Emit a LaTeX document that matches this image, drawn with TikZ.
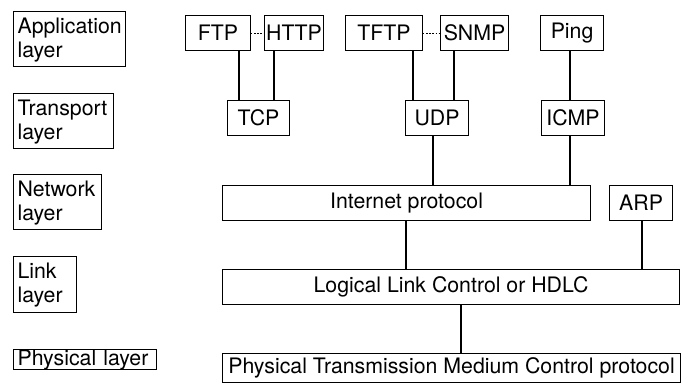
\documentclass[tikz,border=0pt]{standalone}
\usepackage{fontspec}
\setmainfont{TeX Gyre Heros}
\begin{document}
\begin{tikzpicture}[x=1pt,y=-1pt,
  box/.style={draw,line width=1.1pt,anchor=north west,inner xsep=1pt,inner ysep=0pt,
    font=\fontsize{21.3}{24}\selectfont},
  lbl/.style={box,align=left,inner xsep=4pt},
  conn/.style={line width=1.1pt},
  dotconn/.style={line width=1.1pt,dash pattern=on 1.3pt off 1.8pt}]
\useasboundingbox (0,0) rectangle (684,383);
% layer labels
\node[lbl,minimum width=112pt,minimum height=55pt,text width=104pt] (app) at (13,11) {\strut Application\\layer};
\node[lbl,minimum width=100pt,minimum height=55pt,text width=92pt] (trans) at (13,93) {\strut Transport\\layer};
\node[lbl,minimum width=88pt,minimum height=55pt,text width=80pt] (net) at (13,174) {\strut Network\\layer};
\node[lbl,minimum width=63pt,minimum height=56pt,text width=55pt] (link) at (13,256) {\strut Link\\layer};
\node[lbl,minimum width=143pt,minimum height=20pt,text width=135pt] (phys) at (13,349) {Physical layer};
% protocols
\node[box,minimum width=65pt,minimum height=35pt] (ftp) at (185,15) {FTP};
\node[box,minimum width=59pt,minimum height=35pt] (http) at (264,15) {HTTP};
\node[box,minimum width=77pt,minimum height=35pt] (tftp) at (345,15) {TFTP};
\node[box,minimum width=68pt,minimum height=35pt] (snmp) at (440,15) {SNMP};
\node[box,minimum width=63pt,minimum height=35pt] (ping) at (540,15) {Ping};
\node[box,minimum width=62pt,minimum height=35pt] (tcp) at (227,100) {TCP};
\node[box,minimum width=63pt,minimum height=35pt] (udp) at (405,100) {UDP};
\node[box,minimum width=63pt,minimum height=35pt] (icmp) at (541,100) {ICMP};
\node[box,minimum width=368pt,minimum height=35pt] (ip) at (222,185) {Internet protocol};
\node[box,minimum width=63pt,minimum height=35pt] (arp) at (609,185) {ARP};
\node[box,minimum width=457pt,minimum height=35pt] (llc) at (222,269) {Logical Link Control or HDLC};
\node[box,minimum width=458pt,minimum height=29pt] (phy) at (222,353) {Physical Transmission Medium Control protocol};
% x positions of connectors
\coordinate (xa) at (239,0);
\coordinate (xb) at (274,0);
\coordinate (xc) at (413,0);
\coordinate (xd) at (454,0);
\coordinate (xe) at (570,0);
\coordinate (xf) at (433,0);
\coordinate (xg) at (406,0);
\coordinate (xh) at (642,0);
\coordinate (xi) at (461,0);
% connectors
\draw[dotconn] (ftp.east) -- (http.west);
\draw[dotconn] (tftp.east) -- (snmp.west);
\draw[conn] (ftp.south -| xa) -- (tcp.north -| xa);
\draw[conn] (http.south -| xb) -- (tcp.north -| xb);
\draw[conn] (tftp.south -| xc) -- (udp.north -| xc);
\draw[conn] (snmp.south -| xd) -- (udp.north -| xd);
\draw[conn] (ping.south -| xe) -- (icmp.north -| xe);
\draw[conn] (udp.south -| xf) -- (ip.north -| xf);
\draw[conn] (icmp.south -| xe) -- (ip.north -| xe);
\draw[conn] (ip.south -| xg) -- (llc.north -| xg);
\draw[conn] (arp.south -| xh) -- (llc.north -| xh);
\draw[conn] (llc.south -| xi) -- (phy.north -| xi);
\end{tikzpicture}
\end{document}
